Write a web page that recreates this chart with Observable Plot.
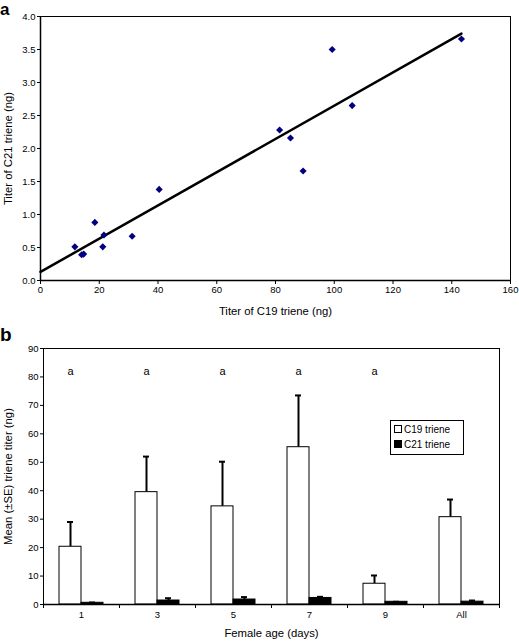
<!DOCTYPE html>
<html><head><meta charset="utf-8">
<script src="https://cdn.jsdelivr.net/npm/d3@7"></script>
<script src="https://cdn.jsdelivr.net/npm/@observablehq/plot@0.6"></script>
<style>
body{margin:0;background:#fff;font-family:"Liberation Sans",Arial,sans-serif;}
#wrap{position:relative;width:519px;height:641px;overflow:hidden;}
#wrap svg{position:absolute;left:0;}
.plab{position:absolute;left:0;font-weight:bold;font-size:17px;line-height:17px;color:#000;}
#legend{position:absolute;left:390px;top:420px;width:72px;height:33px;border:1px solid #000;background:#fff;font-size:10px;}
#legend div{position:absolute;left:3px;height:12px;line-height:12px;white-space:nowrap;}
#legend span.sw{display:inline-block;width:6px;height:6px;border:1px solid #000;margin-right:2px;vertical-align:0px;}
</style></head><body>
<div id="wrap"></div>
<script>
// ---------- Panel a data ----------
const c19Titer = [11.7, 14.0, 14.7, 18.5, 21.2, 21.6, 31.2, 40.4, 81.4, 85.1, 89.4, 99.3, 106.1, 143.3];
const c21Titer = [0.51, 0.39, 0.40, 0.88, 0.51, 0.69, 0.67, 1.38, 2.28, 2.16, 1.66, 3.50, 2.65, 3.66];
const trendX = [0, 143.3];
const trendY = [0.13, 3.74];
const xTicksA = [0, 20, 40, 60, 80, 100, 120, 140, 160];
const yTicksA = [0, 0.5, 1.0, 1.5, 2.0, 2.5, 3.0, 3.5, 4.0];

// ---------- Panel b data ----------
const ages = ["1", "3", "5", "7", "9", "All"];
const c19Mean = [20.3, 39.5, 34.5, 55.3, 7.3, 30.7];
const c19Upper = [29.0, 52.0, 50.2, 73.5, 10.2, 36.9];
const c21Mean = [0.6, 1.4, 1.75, 2.3, 0.95, 1.0];
const c21Upper = [0.7, 2.2, 2.6, 2.7, 0.95, 1.4];
const letters = ["a", "a", "a", "a", "a", ""];
const yTicksB = [0, 10, 20, 30, 40, 50, 60, 70, 80, 90];
const seriesNames = ["C19 triene", "C21 triene"];

const font = "Liberation Sans, Arial, sans-serif";
const tickFs = 9.5, titleFs = 11.3;
const wrap = document.getElementById("wrap");

// ---------- Panel a ----------
const pts = c19Titer.map((x, i) => ({x, y: c21Titer[i]}));
const trend = trendX.map((x, i) => ({x, y: trendY[i]}));
const plotA = Plot.plot({
  width: 519, height: 320,
  marginTop: 16, marginBottom: 40, marginLeft: 40, marginRight: 9,
  style: {fontFamily: font, fontSize: "9.5px", color: "#000", background: "#fff"},
  x: {domain: [0, 160]},
  y: {domain: [0, 4]},
  marks: [
    Plot.frame({stroke: "#000", strokeWidth: 1}),
    Plot.axisX({ticks: xTicksA, tickSize: 4, tickPadding: 2, label: null, fontSize: tickFs}),
    Plot.axisY({ticks: yTicksA, tickSize: 3, tickPadding: 2, tickFormat: d3.format(".1f"), label: null, fontSize: tickFs}),
    Plot.ruleX([0], {stroke: "#000", strokeWidth: 1.5}),
    Plot.ruleY([0], {stroke: "#000", strokeWidth: 1.5}),
    Plot.line(trend, {x: "x", y: "y", stroke: "#000", strokeWidth: 2.5}),
    Plot.dot(pts, {x: "x", y: "y", symbol: "diamond2", r: 3.2, fill: "#000080", stroke: "none"}),
    Plot.text(["Titer of C19 triene (ng)"], {frameAnchor: "bottom", dy: 31, textAnchor: "middle", lineAnchor: "middle", fontSize: titleFs, text: d => d}),
    Plot.text(["Titer of C21 triene (ng)"], {frameAnchor: "left", dx: -32, rotate: -90, textAnchor: "middle", lineAnchor: "middle", fontSize: titleFs, text: d => d})
  ]
});
plotA.style.top = "0px";
wrap.appendChild(plotA);

// ---------- Panel b ----------
const rows = ages.map((a, i) => ({age: a, c19: c19Mean[i], c19u: c19Upper[i], c21: c21Mean[i], c21u: c21Upper[i], lab: letters[i]}));
const plotB = Plot.plot({
  width: 519, height: 321,
  marginTop: 28, marginBottom: 37, marginLeft: 43, marginRight: 20,
  style: {fontFamily: font, fontSize: "9.5px", color: "#000", background: "#fff"},
  x: {domain: ages, padding: 0},
  y: {domain: [0, 90]},
  marks: [
    Plot.frame({stroke: "#000", strokeWidth: 1}),
    Plot.axisX({tickSize: 0, tickPadding: 7, label: null, fontSize: tickFs}),
    Plot.axisX({tickSize: 4, dx: -38, tickFormat: () => "", label: null}),
    Plot.axisX({ticks: ["All"], tickSize: 4, dx: 38, tickFormat: () => "", label: null}),
    Plot.axisY({ticks: yTicksB, tickSize: 3, tickPadding: 2, label: null, fontSize: tickFs}),
    // error bars (upper only)
    Plot.ruleX(rows, {x: "age", y1: "c19", y2: "c19u", dx: -11, stroke: "#000", strokeWidth: 2}),
    Plot.tickY(rows, {x: "age", y: "c19u", insetLeft: 24, insetRight: 46, stroke: "#000", strokeWidth: 2}),
    Plot.ruleX(rows, {x: "age", y1: "c21", y2: "c21u", dx: 11, stroke: "#000", strokeWidth: 2}),
    Plot.tickY(rows, {x: "age", y: "c21u", insetLeft: 46, insetRight: 24, stroke: "#000", strokeWidth: 2}),
    // bars
    Plot.barY(rows, {x: "age", y: "c19", insetLeft: 16, insetRight: 38, fill: "#fff", stroke: "#000", strokeWidth: 1}),
    Plot.barY(rows, {x: "age", y: "c21", insetLeft: 38, insetRight: 16, fill: "#000", stroke: "#000", strokeWidth: 1}),
    Plot.ruleY([0], {stroke: "#000", strokeWidth: 1.5}),
    Plot.text(rows, {x: "age", y: () => 82, text: "lab", dx: -11, fontSize: 11}),
    Plot.text(["Female age (days)"], {frameAnchor: "bottom", dy: 29, textAnchor: "middle", lineAnchor: "middle", fontSize: titleFs, text: d => d}),
    Plot.text(["Mean (\u00B1SE) triene titer (ng)"], {frameAnchor: "left", dx: -35, rotate: -90, textAnchor: "middle", lineAnchor: "middle", fontSize: titleFs, text: d => d})
  ]
});
plotB.style.top = "320px";
wrap.appendChild(plotB);

// panel labels
for (const [t, top, fs] of [["a", 1, 17], ["b", 325, 19]]) {
  const d = document.createElement("div");
  d.className = "plab"; d.textContent = t; d.style.top = top + "px";
  d.style.fontSize = fs + "px"; d.style.lineHeight = fs + "px";
  wrap.appendChild(d);
}

// legend
const lg = document.createElement("div");
lg.id = "legend";
seriesNames.forEach((s, i) => {
  const e = document.createElement("div");
  e.style.top = (3 + i * 15) + "px";
  const sw = document.createElement("span");
  sw.className = "sw";
  sw.style.background = i === 0 ? "#fff" : "#000";
  e.appendChild(sw);
  e.appendChild(document.createTextNode(s));
  lg.appendChild(e);
});
wrap.appendChild(lg);
</script>
</body></html>
